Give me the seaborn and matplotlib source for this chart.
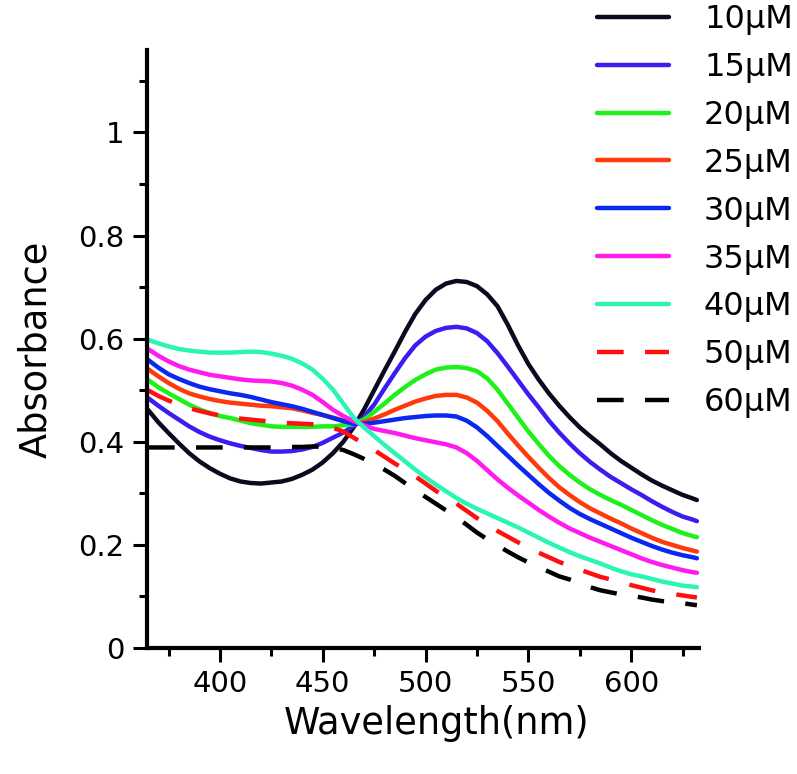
import numpy as np
import pandas as pd
import seaborn as sns
import matplotlib
matplotlib.use("Agg")
import matplotlib.pyplot as plt
from matplotlib.ticker import MultipleLocator, FuncFormatter
from matplotlib.lines import Line2D

# === data (5 nm steps) ===
wavelength = [365, 370, 375, 380, 385, 390, 395, 400, 405, 410, 415, 420, 425, 430,
              435, 440, 445, 450, 455, 460, 465, 470, 475, 480, 485, 490, 495, 500,
              505, 510, 515, 520, 525, 530, 535, 540, 545, 550, 555, 560, 565, 570,
              575, 580, 585, 590, 595, 600, 605, 610, 615, 620, 625, 630, 632]

abs_10 = [0.462, 0.438, 0.417, 0.397, 0.378, 0.362, 0.349, 0.338, 0.329, 0.323, 0.320, 0.319, 0.321, 0.323,
          0.328, 0.336, 0.346, 0.360, 0.378, 0.400, 0.428, 0.462, 0.500, 0.538, 0.575, 0.613, 0.648, 0.675,
          0.695, 0.707, 0.712, 0.710, 0.702, 0.686, 0.663, 0.627, 0.587, 0.551, 0.521, 0.494, 0.470, 0.448,
          0.428, 0.411, 0.395, 0.378, 0.363, 0.350, 0.337, 0.325, 0.315, 0.306, 0.297, 0.290, 0.287]
abs_15 = [0.485, 0.470, 0.456, 0.443, 0.430, 0.419, 0.410, 0.403, 0.397, 0.392, 0.388, 0.384, 0.381, 0.381,
          0.382, 0.385, 0.390, 0.398, 0.408, 0.418, 0.431, 0.448, 0.472, 0.503, 0.533, 0.562, 0.587, 0.604,
          0.615, 0.621, 0.623, 0.620, 0.611, 0.595, 0.572, 0.546, 0.519, 0.492, 0.467, 0.441, 0.418, 0.397,
          0.378, 0.361, 0.346, 0.332, 0.320, 0.308, 0.297, 0.285, 0.274, 0.264, 0.255, 0.249, 0.246]
abs_20 = [0.520, 0.506, 0.494, 0.483, 0.472, 0.463, 0.456, 0.450, 0.446, 0.441, 0.436, 0.433, 0.430, 0.429,
          0.429, 0.429, 0.429, 0.430, 0.430, 0.432, 0.434, 0.443, 0.458, 0.474, 0.491, 0.506, 0.520, 0.531,
          0.540, 0.544, 0.545, 0.543, 0.537, 0.523, 0.501, 0.474, 0.447, 0.420, 0.396, 0.373, 0.353, 0.336,
          0.321, 0.308, 0.297, 0.287, 0.278, 0.268, 0.258, 0.248, 0.239, 0.231, 0.223, 0.217, 0.215]
abs_25 = [0.541, 0.527, 0.514, 0.503, 0.494, 0.488, 0.483, 0.479, 0.476, 0.474, 0.472, 0.470, 0.469, 0.467,
          0.465, 0.461, 0.456, 0.452, 0.447, 0.441, 0.436, 0.438, 0.445, 0.453, 0.462, 0.470, 0.478, 0.484,
          0.489, 0.491, 0.491, 0.486, 0.476, 0.460, 0.440, 0.416, 0.393, 0.371, 0.350, 0.330, 0.312, 0.297,
          0.283, 0.271, 0.261, 0.251, 0.242, 0.232, 0.223, 0.214, 0.206, 0.200, 0.194, 0.189, 0.187]
abs_30 = [0.559, 0.544, 0.531, 0.522, 0.514, 0.507, 0.502, 0.498, 0.494, 0.491, 0.487, 0.482, 0.477, 0.473,
          0.469, 0.464, 0.458, 0.452, 0.446, 0.440, 0.435, 0.435, 0.437, 0.440, 0.443, 0.446, 0.448, 0.450,
          0.451, 0.451, 0.449, 0.441, 0.428, 0.411, 0.392, 0.373, 0.354, 0.336, 0.318, 0.301, 0.286, 0.272,
          0.260, 0.250, 0.241, 0.232, 0.223, 0.214, 0.206, 0.198, 0.191, 0.185, 0.180, 0.176, 0.174]
abs_35 = [0.580, 0.567, 0.556, 0.547, 0.540, 0.535, 0.530, 0.527, 0.524, 0.521, 0.519, 0.518, 0.517, 0.514,
          0.509, 0.501, 0.491, 0.477, 0.462, 0.450, 0.440, 0.432, 0.425, 0.421, 0.417, 0.412, 0.407, 0.403,
          0.399, 0.395, 0.389, 0.378, 0.363, 0.345, 0.327, 0.311, 0.296, 0.282, 0.268, 0.255, 0.243, 0.232,
          0.223, 0.214, 0.206, 0.198, 0.190, 0.182, 0.174, 0.167, 0.161, 0.156, 0.151, 0.147, 0.146]
abs_40 = [0.598, 0.591, 0.585, 0.580, 0.577, 0.575, 0.573, 0.573, 0.573, 0.574, 0.575, 0.574, 0.571, 0.567,
          0.561, 0.552, 0.540, 0.522, 0.501, 0.474, 0.447, 0.428, 0.411, 0.394, 0.378, 0.362, 0.346, 0.331,
          0.317, 0.304, 0.291, 0.280, 0.270, 0.261, 0.252, 0.243, 0.234, 0.224, 0.214, 0.204, 0.195, 0.186,
          0.178, 0.171, 0.164, 0.156, 0.149, 0.143, 0.139, 0.134, 0.129, 0.125, 0.121, 0.119, 0.118]
abs_50 = [0.500, 0.489, 0.480, 0.472, 0.465, 0.460, 0.455, 0.451, 0.447, 0.445, 0.443, 0.441, 0.439, 0.437,
          0.436, 0.435, 0.434, 0.432, 0.427, 0.420, 0.408, 0.396, 0.384, 0.371, 0.358, 0.346, 0.333, 0.319,
          0.305, 0.292, 0.280, 0.266, 0.252, 0.239, 0.227, 0.216, 0.205, 0.195, 0.185, 0.176, 0.167, 0.159,
          0.152, 0.145, 0.138, 0.133, 0.128, 0.122, 0.117, 0.112, 0.108, 0.105, 0.102, 0.099, 0.098]
abs_60 = [0.389, 0.389, 0.389, 0.389, 0.389, 0.389, 0.389, 0.389, 0.389, 0.389, 0.389, 0.389, 0.389, 0.390,
          0.390, 0.390, 0.391, 0.390, 0.388, 0.384, 0.376, 0.367, 0.357, 0.346, 0.334, 0.320, 0.306, 0.293,
          0.280, 0.267, 0.254, 0.239, 0.224, 0.211, 0.199, 0.187, 0.176, 0.166, 0.157, 0.148, 0.139, 0.133,
          0.126, 0.118, 0.112, 0.108, 0.104, 0.101, 0.098, 0.094, 0.091, 0.089, 0.087, 0.084, 0.083]

labels = ["10\u00b5M", "15\u00b5M", "20\u00b5M", "25\u00b5M", "30\u00b5M",
          "35\u00b5M", "40\u00b5M", "50\u00b5M", "60\u00b5M"]
series = [abs_10, abs_15, abs_20, abs_25, abs_30, abs_35, abs_40, abs_50, abs_60]
colors = ["#0b0b1f", "#3a1ef0", "#1ef01a", "#ff3a0a", "#0a28f0",
          "#ff1aee", "#2bf5b5", "#ff1010", "#000000"]
dashed = ["50\u00b5M", "60\u00b5M"]

df = pd.concat(
    [pd.DataFrame({"Wavelength": wavelength, "Absorbance": vals, "Conc": lab})
     for lab, vals in zip(labels, series)],
    ignore_index=True,
)

# === plot ===
sns.set_style("ticks")
plt.rcParams["font.family"] = ["DejaVu Sans"]
plt.rcParams["text.color"] = "black"
plt.rcParams["axes.labelcolor"] = "black"

fig = plt.figure(figsize=(7.97, 7.74), dpi=100)
ax = fig.add_axes([0.1844, 0.1628, 0.6926, 0.7726])

LW = 3.2
DASH = (6, 4.8)
dash_map = {lab: (DASH if lab in dashed else "") for lab in labels}

sns.lineplot(
    data=df, x="Wavelength", y="Absorbance",
    hue="Conc", style="Conc",
    palette=dict(zip(labels, colors)),
    dashes=dash_map,
    linewidth=LW, ax=ax, legend=False,
)

ax.set_xlim(364.5, 633)
ax.set_ylim(0, 1.16)

ax.xaxis.set_major_locator(MultipleLocator(50))
ax.xaxis.set_minor_locator(MultipleLocator(25))
ax.yaxis.set_major_locator(MultipleLocator(0.2))
ax.yaxis.set_minor_locator(MultipleLocator(0.1))
ax.yaxis.set_major_formatter(FuncFormatter(lambda v, p: f"{v:g}"))

ax.tick_params(which="major", direction="out", length=10, width=2.2,
               labelsize=21, pad=6, color="black", labelcolor="black")
ax.tick_params(which="minor", direction="out", length=5.5, width=2.2, color="black")

for side in ["top", "right"]:
    ax.spines[side].set_visible(False)
for side in ["left", "bottom"]:
    ax.spines[side].set_linewidth(3)
    ax.spines[side].set_color("black")

ax.set_xlabel("Wavelength(nm)", fontsize=26.5)
ax.set_ylabel("Absorbance", fontsize=26.5)
ax.xaxis.set_label_coords(0.524, -0.095)
ax.yaxis.set_label_coords(-0.168, 0.5)

# legend built from the same series styles
handles = [Line2D([], [], color=col, linewidth=LW,
                  linestyle=(0, DASH) if lab in dashed else "-")
           for lab, col in zip(labels, colors)]
fig.legend(
    handles, labels,
    loc="upper left", bbox_to_anchor=(0.749, 0.995),
    frameon=False, fontsize=23,
    handlelength=2.25, handletextpad=1.1, labelspacing=0.53,
    borderpad=0, borderaxespad=0,
)

fig.savefig("out.png", dpi=100)
